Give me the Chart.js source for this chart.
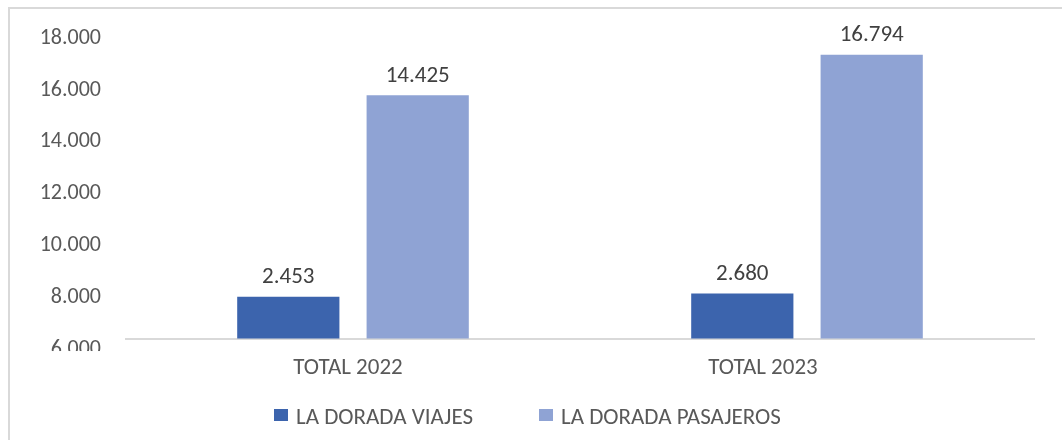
<!DOCTYPE html>
<html>
<head>
<meta charset="utf-8">
<script src="https://cdn.jsdelivr.net/npm/chart.js@4.4.1/dist/chart.umd.min.js"></script>
<style>
  html, body { margin: 0; padding: 0; background: #ffffff; overflow: hidden; }
  #wrap { position: relative; width: 1062px; height: 440px; }
  #c { position: absolute; left: 0; top: 0; }
  #frame { position: absolute; left: 8px; top: 7px; width: 1100px; height: 500px;
           border-left: 2px solid #d9d9d9; border-top: 2px solid #d9d9d9; pointer-events: none; }
  .lg { position: absolute; top: 401px; height: 30px; display: flex; align-items: center;
        font-family: Carlito, Lato, 'Liberation Sans', sans-serif; font-size: 23px; color: #595959;
        white-space: nowrap; }
  .lg i { display: inline-block; width: 14px; height: 12px; margin-right: 8px; margin-top: -3px; }
</style>
</head>
<body>
<div id="wrap">
  <canvas id="c" width="1062" height="440"></canvas>
  <div id="frame"></div>
  <div id="legend"></div>
</div>
<script>
// ---- data ----
const categories = ["TOTAL 2022", "TOTAL 2023"];
const seriesNames = ["LA DORADA VIAJES", "LA DORADA PASAJEROS"];
// bar heights as drawn on the value axis
const viajesHeights = [8030, 8160];
const pasajerosHeights = [15800, 17360];
// data labels as printed above the bars
const viajesLabels = ["2.453", "2.680"];
const pasajerosLabels = ["14.425", "16.794"];
// value axis tick labels
const yTicks = [6000, 8000, 10000, 12000, 14000, 16000, 18000];

// ---- style ----
const FONT = "Carlito, Lato, 'Liberation Sans', sans-serif";
const colors = ["#3c64ad", "#8fa3d4"];
const catLabelShift = [-5, -44];     // category labels sit left of their bar groups in the original
const legendLeft = [274, 539];

function fmt(v) {
  return String(Math.round(v)).replace(/\B(?=(\d{3})+(?!\d))/g, ".");
}

// HTML legend
const legendEl = document.getElementById('legend');
seriesNames.forEach((name, i) => {
  const d = document.createElement('div');
  d.className = 'lg';
  d.style.left = legendLeft[i] + 'px';
  const sw = document.createElement('i');
  sw.style.background = colors[i];
  d.appendChild(sw);
  d.appendChild(document.createTextNode(name));
  legendEl.appendChild(d);
});

const dataLabelsPlugin = {
  id: 'dataLabels',
  afterDatasetsDraw(chart) {
    const ctx = chart.ctx;
    const labelSets = [viajesLabels, pasajerosLabels];
    ctx.save();
    ctx.font = "23px " + FONT;
    ctx.fillStyle = "#404040";
    ctx.textAlign = "center";
    ctx.textBaseline = "middle";
    chart.data.datasets.forEach((ds, di) => {
      const meta = chart.getDatasetMeta(di);
      meta.data.forEach((bar, i) => {
        ctx.fillText(labelSets[di][i], bar.x, bar.y - 19.5);
      });
    });
    ctx.restore();
  }
};

const categoryLabelsPlugin = {
  id: 'categoryLabels',
  afterDraw(chart) {
    const ctx = chart.ctx;
    const xs = chart.scales.x;
    ctx.save();
    ctx.font = "23px " + FONT;
    ctx.fillStyle = "#595959";
    ctx.textAlign = "center";
    ctx.textBaseline = "middle";
    chart.data.labels.forEach((lab, i) => {
      ctx.fillText(lab, xs.getPixelForValue(i) + catLabelShift[i], chart.chartArea.bottom + 30);
    });
    ctx.restore();
  }
};

// hides the lower part of the clipped bottom tick label, as in the original
const clipPlugin = {
  id: 'clipBottomTick',
  afterDraw(chart) {
    const ctx = chart.ctx;
    ctx.save();
    ctx.fillStyle = "#ffffff";
    const y = chart.scales.y.getPixelForValue(6000);
    ctx.fillRect(12, y + 1.5, chart.chartArea.left - 14, 12);
    ctx.restore();
  }
};

new Chart(document.getElementById('c'), {
  type: 'bar',
  data: {
    labels: categories,
    datasets: [
      { label: seriesNames[0], data: viajesHeights, backgroundColor: colors[0],
        borderWidth: 0, categoryPercentage: 0.57, barPercentage: 0.79 },
      { label: seriesNames[1], data: pasajerosHeights, backgroundColor: colors[1],
        borderWidth: 0, categoryPercentage: 0.57, barPercentage: 0.79 }
    ]
  },
  options: {
    responsive: false,
    animation: false,
    devicePixelRatio: 1,
    layout: { padding: { left: 20, right: 28, top: 37, bottom: 47 } },
    plugins: {
      legend: { display: false },
      tooltip: { enabled: false },
      title: { display: false }
    },
    scales: {
      x: {
        grid: { display: false, drawTicks: false },
        border: { display: true, color: '#d9d9d9', width: 2 },
        ticks: { display: false },
        afterFit(scale) { scale.height = 54.5; }
      },
      y: {
        min: 6425, max: 18000,
        grid: { display: false, drawTicks: false },
        border: { display: false },
        ticks: {
          font: { family: FONT, size: 22 }, color: '#595959', padding: 25,
          autoSkip: false,
          callback: (v) => fmt(v)
        },
        afterBuildTicks(scale) { scale.ticks = yTicks.map(v => ({ value: v })); },
        afterFit(scale) { scale.width = 106; }
      }
    }
  },
  plugins: [dataLabelsPlugin, categoryLabelsPlugin, clipPlugin]
});
</script>
</body>
</html>
